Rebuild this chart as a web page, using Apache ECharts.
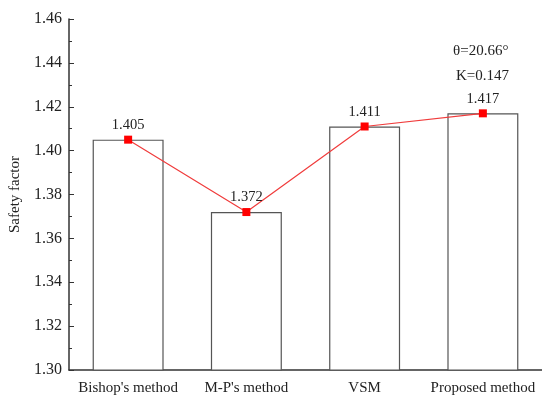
<!DOCTYPE html>
<html><head><meta charset="utf-8">
<script src="https://cdn.jsdelivr.net/npm/echarts@6/dist/echarts.min.js"></script>
<style>html,body{margin:0;padding:0;background:#fff}#c{width:542px;height:399px}</style>
</head><body><div id="c"></div>
<script>
var categories = ["Bishop's method", "M-P's method", "VSM", "Proposed method"];
var safetyFactor = [1.405, 1.372, 1.411, 1.417];
var yTicks = [1.30, 1.32, 1.34, 1.36, 1.38, 1.40, 1.42, 1.44, 1.46];
var noteLines = ["θ=20.66°", "K=0.147"];

var font = "'Liberation Serif', 'Times New Roman', serif";
var chart = echarts.init(document.getElementById('c'));
chart.setOption({
  animation: false,
  grid: { left: 68, right: 0, top: 19, bottom: 29 },
  graphic: [
    { type: 'text', left: 453, top: 44, style: { text: noteLines[0], font: '15px ' + font, fill: '#222' } },
    { type: 'text', left: 456, top: 69, style: { text: noteLines[1], font: '15px ' + font, fill: '#222' } }
  ],
  xAxis: [{
    type: 'category', data: categories,
    axisLine: { lineStyle: { color: '#333', width: 1.5 } },
    axisTick: { inside: true, alignWithLabel: true, length: 6, lineStyle: { color: '#333' } },
    axisLabel: { interval: 0, hideOverlap: false, color: '#222', fontFamily: font, fontSize: 15, margin: 11 }
  }, {
    type: 'category', data: categories, position: 'bottom',
    axisLine: { show: false },
    axisTick: { inside: true, length: 3, lineStyle: { color: '#333' } },
    axisLabel: { show: false }
  }],
  yAxis: {
    type: 'value', min: 1.30, max: 1.46, interval: 0.02,
    name: 'Safety factor', nameLocation: 'middle', nameGap: 46, nameRotate: 90,
    nameTextStyle: { color: '#222', fontFamily: font, fontSize: 15 },
    axisLine: { show: true, lineStyle: { color: '#333', width: 1.5 } },
    axisTick: { show: true, inside: true, length: 5, lineStyle: { color: '#333' } },
    minorTick: { show: true, splitNumber: 2, length: 3, lineStyle: { color: '#333' } },
    splitLine: { show: false },
    axisLabel: { color: '#222', fontFamily: font, fontSize: 16, margin: 7,
      formatter: function (v) { return v.toFixed(2); } }
  },
  series: [{
    type: 'bar', data: safetyFactor, barCategoryGap: '40%',
    itemStyle: { color: '#fff', borderColor: '#555', borderWidth: 1.2 },
    silent: true
  }, {
    type: 'line', data: safetyFactor, symbol: 'rect', symbolSize: 8,
    lineStyle: { color: '#f03c3c', width: 1.2 },
    itemStyle: { color: '#ff0000' },
    label: { show: true, position: 'top', distance: 3, color: '#222', fontFamily: font, fontSize: 14.5,
      formatter: function (p) { return p.value.toFixed(3); } }
  }]
});
</script></body></html>
